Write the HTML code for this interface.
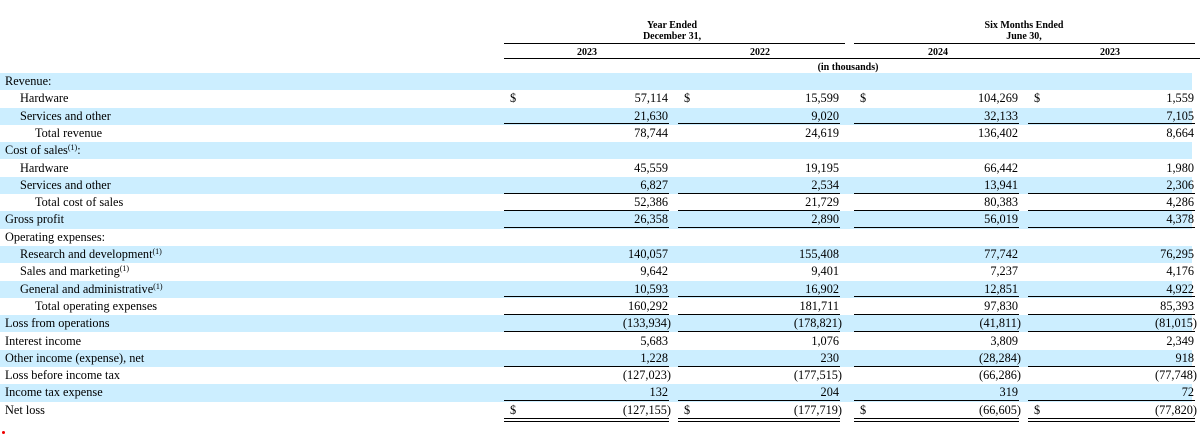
<!DOCTYPE html>
<html><head><meta charset="utf-8"><style>
html,body{margin:0;padding:0;background:#fff;}
body{width:1200px;height:438px;position:relative;overflow:hidden;font-family:"Liberation Serif",serif;font-size:12.3px;color:#000;}
.row{position:absolute;left:0;width:1200px;height:17.3px;}
.sh{background:#cceeff;}
.shb{position:absolute;left:0;top:0;width:1192px;height:17.3px;background:#cceeff;}
.lbl{position:absolute;top:1px;white-space:nowrap;}
.v{position:absolute;top:1px;text-align:right;white-space:nowrap;}
.d{position:absolute;top:1px;}
.ul{position:absolute;height:0;border-bottom:1.5px solid #000;}
.dl{position:absolute;height:2px;border-top:1.5px solid #000;border-bottom:1.5px solid #000;}
.h{position:absolute;font-weight:bold;font-size:10px;text-align:center;line-height:11px;}
sup{font-size:8px;vertical-align:4px;line-height:0;}
</style></head><body>
<div class="h" style="left:572px;width:200px;top:20px;">Year Ended<br>December 31,</div>
<div class="h" style="left:924px;width:200px;top:20px;">Six Months Ended<br>June 30,</div>
<div class="ul" style="left:504px;width:341px;top:43px;"></div>
<div class="ul" style="left:854px;width:341px;top:43px;"></div>
<div class="h" style="left:537px;width:100px;top:47px;">2023</div>
<div class="h" style="left:710px;width:100px;top:47px;">2022</div>
<div class="h" style="left:888px;width:100px;top:47px;">2024</div>
<div class="h" style="left:1060px;width:100px;top:47px;">2023</div>
<div class="ul" style="left:504px;width:696px;top:58px;"></div>
<div class="h" style="left:748px;width:200px;top:62px;">(in thousands)</div>
<div id="t"></div>
<div style="position:absolute;left:2px;top:431px;width:3px;height:3px;border-radius:50%;background:#e00;"></div>
<script>
const labels=[["Revenue:",5],["Hardware",20],["Services and other",20],["Total revenue",35],["Cost of sales<sup>(1)</sup>:",5],["Hardware",20],["Services and other",20],["Total cost of sales",35],["Gross profit",5],["Operating expenses:",5],["Research and development<sup>(1)</sup>",20],["Sales and marketing<sup>(1)</sup>",20],["General and administrative<sup>(1)</sup>",20],["Total operating expenses",35],["Loss from operations",5],["Interest income",5],["Other income (expense), net",5],["Loss before income tax",5],["Income tax expense",5],["Net loss",5]];
const y2023=[null,"57,114","21,630","78,744",null,"45,559","6,827","52,386","26,358",null,"140,057","9,642","10,593","160,292","(133,934)","5,683","1,228","(127,023)","132","(127,155)"];
const y2022=[null,"15,599","9,020","24,619",null,"19,195","2,534","21,729","2,890",null,"155,408","9,401","16,902","181,711","(178,821)","1,076","230","(177,515)","204","(177,719)"];
const h2024=[null,"104,269","32,133","136,402",null,"66,442","13,941","80,383","56,019",null,"77,742","7,237","12,851","97,830","(41,811)","3,809","(28,284)","(66,286)","319","(66,605)"];
const h2023=[null,"1,559","7,105","8,664",null,"1,980","2,306","4,286","4,378",null,"76,295","4,176","4,922","85,393","(81,015)","2,349","918","(77,748)","72","(77,820)"];
const dollarRows=[1,19];
const underRows=[2,6,7,8,12,13,14,16,18];
const groups=[[504,669],[678,840],[854,1019],[1028,1195]];
const series=[y2023,y2022,h2024,h2023];
const t=document.getElementById('t');
labels.forEach((l,i)=>{
  const r=document.createElement('div');
  r.className='row';
  r.style.top=(73+i*17.3)+'px';
  
  
  if(i%2===0){
    const b=document.createElement('div');
    b.className='shb';
    
    
    r.appendChild(b);
  }
  const lb=document.createElement('div');
  lb.className='lbl';lb.style.left=l[1]+'px';lb.innerHTML=l[0];
  
  
  r.appendChild(lb);
  series.forEach((s,k)=>{
    const g=groups[k];
    if(s[i]!==null){
      const v=document.createElement('div');
      v.className='v';
      const par=s[i].endsWith(')');
      v.style.right=(1200-g[1]-(par?2:-1))+'px';
      v.textContent=s[i];
      
      
      r.appendChild(v);
    }
    if(dollarRows.includes(i)){
      const d=document.createElement('div');
      d.className='d';d.style.left=(g[0]+6)+'px';d.textContent='$';
      
      
      r.appendChild(d);
    }
    if(underRows.includes(i)||i===19){
      const u=document.createElement('div');
      u.className=i===19?'dl':'ul';
      u.style.left=g[0]+'px';u.style.width=(g[1]-g[0])+'px';
      u.style.top=(i===19?16:15.8)+'px';
      
      
      r.appendChild(u);
    }
  });
  t.appendChild(r);
});
</script>
</body></html>
